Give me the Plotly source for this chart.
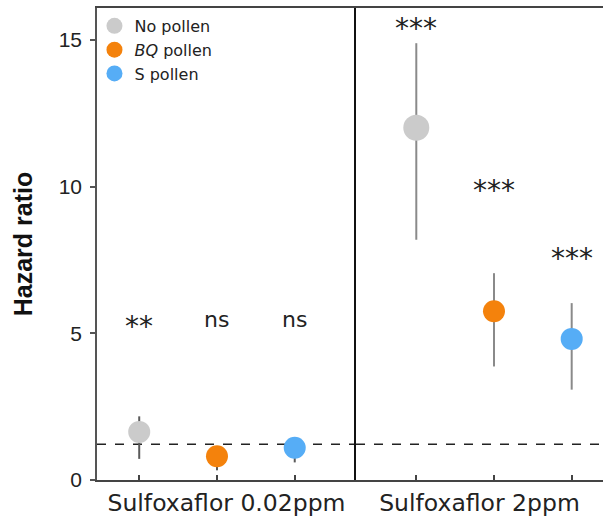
import plotly.graph_objects as go

# ---- data ----
conditions = ["No pollen", "BQ pollen", "S pollen"]
legend_names = ["No pollen", "<i>BQ</i> pollen", "S pollen"]
groups = ["Sulfoxaflor 0.02ppm", "Sulfoxaflor 2ppm"]

hr_low_dose = [1.64, 0.81, 1.10]
ci_lo_low_dose = [0.72, 0.33, 0.60]
ci_hi_low_dose = [2.17, 1.05, 1.30]
sig_low_dose = ["**", "ns", "ns"]
sig_y_low_dose = [5.46, 5.46, 5.46]

hr_high_dose = [12.01, 5.75, 4.81]
ci_lo_high_dose = [8.19, 3.87, 3.08]
ci_hi_high_dose = [14.89, 7.05, 6.03]
sig_high_dose = ["***", "***", "***"]
sig_y_high_dose = [15.62, 10.12, 7.79]

reference_hr = 1.22
y_ticks = [0, 5, 10, 15]

# ---- style ----
colors = ["#cbcbcb", "#f4820c", "#56adf6"]
left_sizes = [22, 22, 22]
right_sizes = [26, 22, 22]

fig = go.Figure()

panels = [
    ("x", "y", hr_low_dose, ci_lo_low_dose, ci_hi_low_dose, left_sizes, "#5a5a5a", True),
    ("x2", "y2", hr_high_dose, ci_lo_high_dose, ci_hi_high_dose, right_sizes, "#8a8a8a", False),
]
for xa, ya, hr, lo, hi, sizes, ecol, show in panels:
    for i, cond in enumerate(conditions):
        fig.add_trace(go.Scatter(
            x=[cond], y=[hr[i]], mode="markers", name=legend_names[i],
            xaxis=xa, yaxis=ya, showlegend=show, legendgroup=cond,
            marker=dict(color=colors[i], size=sizes[i], line=dict(width=0)),
            error_y=dict(type="data", symmetric=False,
                         array=[hi[i] - hr[i]], arrayminus=[hr[i] - lo[i]],
                         color=ecol, thickness=2, width=0),
        ))

annotations = []
for xa, ya, labels, ys in [("x", "y", sig_low_dose, sig_y_low_dose),
                           ("x2", "y2", sig_high_dose, sig_y_high_dose)]:
    for i, cond in enumerate(conditions):
        star = labels[i].startswith("*")
        annotations.append(dict(
            x=cond, y=ys[i], xref=xa, yref=ya, text=labels[i], showarrow=False,
            xanchor="center", yanchor="middle",
            yshift=-7 if star else 0,
            font=dict(family="DejaVu Sans", size=28 if star else 22, color="#222222"),
        ))

shapes = [
    dict(type="line", xref="x domain", yref="y", x0=0, x1=1,
         y0=reference_hr, y1=reference_hr, layer="below",
         line=dict(color="#222222", width=1.6, dash="dash")),
    dict(type="line", xref="x2 domain", yref="y2", x0=0, x1=1,
         y0=reference_hr, y1=reference_hr, layer="below",
         line=dict(color="#222222", width=1.6, dash="dash")),
]

yr = [0, 16.09]
split = 259 / 506
title_font = dict(family="DejaVu Sans", size=23.5, color="#222222")
xcommon = dict(type="category", categoryorder="array", categoryarray=conditions,
               showticklabels=False, ticks="inside", ticklen=5, tickwidth=1.5,
               tickcolor="#444444", showline=True, linecolor="#444444", linewidth=1.5,
               mirror=True, showgrid=False, zeroline=False, automargin=False)

fig.update_layout(
    width=603, height=517,
    margin=dict(l=97, r=0, t=8, b=36.5, autoexpand=False),
    paper_bgcolor="white", plot_bgcolor="white",
    showlegend=True,
    legend=dict(x=-0.005, y=0.998, xanchor="left", yanchor="top",
                bgcolor="rgba(0,0,0,0)", borderwidth=0,
                font=dict(family="DejaVu Sans", size=16, color="#222222"),
                itemsizing="trace", tracegroupgap=0),
    xaxis=dict(xcommon, domain=[0, split], range=[-0.543, 2.788], anchor="y",
               title=dict(text=groups[0], font=title_font, standoff=16)),
    xaxis2=dict(xcommon, domain=[split, 1], range=[-0.776, 2.403], anchor="y2",
                title=dict(text=groups[1], font=title_font, standoff=16)),
    yaxis=dict(range=yr, tickvals=y_ticks, ticks="outside", ticklen=5, tickwidth=1.5,
               tickcolor="#555555", showline=True, linecolor="#555555", linewidth=1.5,
               showgrid=False, zeroline=False, ticklabelstandoff=4, anchor="x",
               automargin=False,
               tickfont=dict(family="Liberation Sans", size=21, color="#222222"),
               title=dict(text="<b>Hazard ratio</b>", standoff=19,
                          font=dict(family="Liberation Sans", size=25, color="#111111"))),
    yaxis2=dict(range=yr, anchor="x2", showticklabels=False, ticks="",
                showline=True, linecolor="#111111", linewidth=2,
                showgrid=False, zeroline=False, automargin=False),
    annotations=annotations,
    shapes=shapes,
)

fig.write_html(
    "out.html",
    config={"displayModeBar": False},
    post_script="document.body.style.margin='0';document.body.style.overflow='hidden';",
)
